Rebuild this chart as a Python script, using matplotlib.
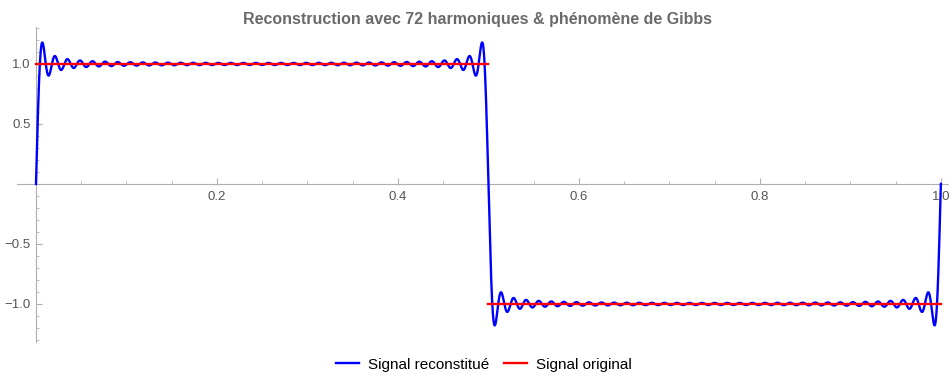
import numpy as np
import matplotlib.pyplot as plt
from matplotlib.ticker import MultipleLocator, FuncFormatter

# square wave: +1 on [0, 0.5), -1 on [0.5, 1]
n_harmonics = 72
levels = [1.0, -1.0]
edges = [0.0, 0.5, 1.0]

x_ticks = [0.2, 0.4, 0.6, 0.8, 1.0]
y_ticks = [-1.0, -0.5, 0.5, 1.0]

# Fourier partial sum, odd harmonics carry 4/(pi k)
x = np.linspace(0, 1, 6000)
k = np.arange(1, n_harmonics + 1)
b = np.where(k % 2 == 1, 4 / (np.pi * k), 0.0)
y = (b[:, None] * np.sin(2 * np.pi * k[:, None] * x[None, :])).sum(axis=0)

plt.rcParams['font.family'] = ['Liberation Sans', 'DejaVu Sans']
fig = plt.figure(figsize=(9.49, 3.76), dpi=100)
ax = fig.add_axes([17 / 949, 34 / 376, 932 / 949, 315 / 376])

ax.plot(x, y, color='#0000ff', lw=1.7, label='Signal reconstitué', zorder=3)
for i, lvl in enumerate(levels):
    ax.plot([edges[i], edges[i + 1]], [lvl, lvl], color='#ff0000', lw=1.7,
            label='Signal original' if i == 0 else None, zorder=4)

ax.set_xlim(-0.021, 1.009)
ax.set_ylim(-1.317, 1.308)

grey = '#b0b0b0'
for s in ['top', 'right']:
    ax.spines[s].set_visible(False)
ax.spines['left'].set_position(('data', 0))
ax.spines['bottom'].set_position(('data', 0))
ax.spines['left'].set_color(grey)
ax.spines['bottom'].set_color(grey)

ax.xaxis.set_major_locator(plt.FixedLocator(x_ticks))
ax.xaxis.set_minor_locator(MultipleLocator(0.05))
ax.yaxis.set_major_locator(plt.FixedLocator(y_ticks))
ax.yaxis.set_minor_locator(MultipleLocator(0.1))
fmt = FuncFormatter(lambda v, p: f'{v:.1f}'.replace('-', '\u2212'))
ax.xaxis.set_major_formatter(fmt)
ax.yaxis.set_major_formatter(fmt)
ax.tick_params(which='both', direction='in', color=grey, labelcolor='#555555',
               labelsize=9.5)
ax.tick_params(which='major', length=4)
ax.tick_params(which='minor', length=2.5)
ax.tick_params(axis='x', pad=5)
ax.tick_params(axis='y', pad=4)

fig.suptitle('Reconstruction avec 72 harmoniques & phénomène de Gibbs',
             x=0.503, y=0.968, fontsize=11.5, fontweight='bold', color='#6a6a6a')

fig.legend(loc='lower center', bbox_to_anchor=(0.51, -0.025), ncol=2, frameon=False,
           fontsize=11, handlelength=1.5, handletextpad=0.6, columnspacing=1.0)

fig.savefig('out.png', dpi=100)
